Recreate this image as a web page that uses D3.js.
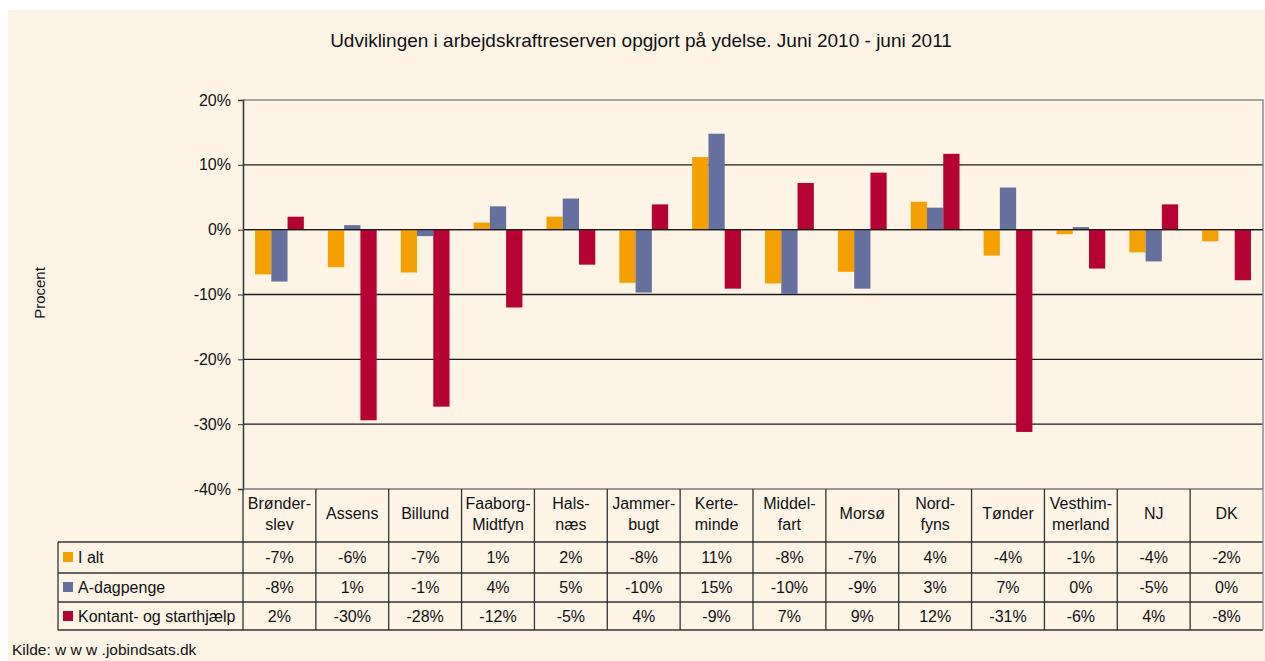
<!DOCTYPE html>
<html>
<head>
<meta charset="utf-8">
<script src="https://cdn.jsdelivr.net/npm/d3@7"></script>
<style>
  body { margin: 0; background: #fff; }
  text { font-family: "Liberation Sans", Arial, sans-serif; fill: #111; }
</style>
</head>
<body>
<script>
// data
var categories = ["Brønder-\nslev", "Assens", "Billund", "Faaborg-\nMidtfyn", "Hals-\nnæs", "Jammer-\nbugt",
  "Kerte-\nminde", "Middel-\nfart", "Morsø", "Nord-\nfyns", "Tønder", "Vesthim-\nmerland", "NJ", "DK"];
var seriesNames = ["I alt", "A-dagpenge", "Kontant- og starthjælp"];
var iAlt = [-6.9, -5.8, -6.6, 1.1, 2.0, -8.2, 11.2, -8.3, -6.5, 4.3, -4.0, -0.7, -3.5, -1.8];
var aDagpenge = [-8.0, 0.7, -1.0, 3.6, 4.8, -9.7, 14.8, -9.9, -9.1, 3.4, 6.5, 0.4, -4.9, 0.0];
var kontant = [2.0, -29.4, -27.3, -12.0, -5.4, 3.9, -9.1, 7.2, 8.8, 11.7, -31.2, -6.0, 3.9, -7.8];
var iAltLabels = ["-7%", "-6%", "-7%", "1%", "2%", "-8%", "11%", "-8%", "-7%", "4%", "-4%", "-1%", "-4%", "-2%"];
var aDagLabels = ["-8%", "1%", "-1%", "4%", "5%", "-10%", "15%", "-10%", "-9%", "3%", "7%", "0%", "-5%", "0%"];
var kontantLabels = ["2%", "-30%", "-28%", "-12%", "-5%", "4%", "-9%", "7%", "9%", "12%", "-31%", "-6%", "4%", "-8%"];
var yTicks = [20, 10, 0, -10, -20, -30, -40];
var colors = ["#F4A000", "#66709E", "#B50233"];

var series = [iAlt, aDagpenge, kontant];
var rowLabels = [iAltLabels, aDagLabels, kontantLabels];

var W = 1265, H = 661;
var plotLeft = 243, plotRight = 1263, plotTop = 100, plotBottom = 489;

var svg = d3.select("body").append("svg")
  .attr("width", W)
  .attr("height", H);

// background
svg.append("rect")
  .attr("x", 8).attr("y", 10)
  .attr("width", W - 8).attr("height", H - 10)
  .attr("fill", "#FDF4E6");

var x0 = d3.scaleBand().domain(d3.range(categories.length)).range([plotLeft, plotRight]);
var x1 = d3.scaleBand().domain([0, 1, 2]).range([0, x0.bandwidth()]).paddingOuter(0.74);
var y = d3.scaleLinear().domain([-40, 20]).range([plotBottom, plotTop]);

// gridlines
svg.append("g").selectAll("line")
  .data(yTicks.filter(function(d) { return d > -40 && d < 20; }))
  .join("line")
  .attr("x1", plotLeft).attr("x2", plotRight)
  .attr("y1", function(d) { return y(d); })
  .attr("y2", function(d) { return y(d); })
  .attr("stroke", "#1a1a1a")
  .attr("stroke-width", 1.3);

// plot border top/right
svg.append("path")
  .attr("d", "M" + plotLeft + "," + y(20) + "H" + plotRight + "V" + y(-40))
  .attr("fill", "none")
  .attr("stroke", "#8a8a8a")
  .attr("stroke-width", 1.5);

// bars
series.forEach(function(vals, si) {
  svg.append("g").selectAll("rect")
    .data(vals)
    .join("rect")
    .attr("x", function(d, i) { return x0(i) + x1(si); })
    .attr("width", x1.bandwidth())
    .attr("y", function(d) { return y(Math.max(0, d)); })
    .attr("height", function(d) { return Math.abs(y(d) - y(0)); })
    .attr("fill", colors[si]);
});

// zero line on top
svg.append("line")
  .attr("x1", plotLeft).attr("x2", plotRight)
  .attr("y1", y(0)).attr("y2", y(0))
  .attr("stroke", "#1a1a1a")
  .attr("stroke-width", 1.3);

// y axis
var yAxis = svg.append("g")
  .attr("transform", "translate(" + plotLeft + ",0)")
  .call(d3.axisLeft(y).tickValues(yTicks).tickSize(5).tickPadding(7)
    .tickFormat(function(d) { return d + "%"; }));
yAxis.select(".domain").attr("stroke", "#333").attr("stroke-width", 1.5);
yAxis.selectAll(".tick line").attr("stroke", "#333");
yAxis.selectAll("text")
  .style("font-family", "'Liberation Sans', Arial, sans-serif")
  .style("font-size", "16px")
  .attr("fill", "#111");

svg.append("text")
  .attr("transform", "translate(45,293) rotate(-90)")
  .attr("text-anchor", "middle")
  .style("font-size", "15px")
  .text("Procent");

svg.append("text")
  .attr("x", 641).attr("y", 47)
  .attr("text-anchor", "middle")
  .style("font-size", "19px")
  .text("Udviklingen i arbejdskraftreserven opgjort på ydelse. Juni 2010 - juni 2011");

// data table
var rowsY = [plotBottom, 542, 573, 602, 630];
var legLeft = 58;
var tableColor = "#333";
var tbl = svg.append("g");

// horizontal lines
tbl.selectAll("line.h")
  .data(rowsY)
  .join("line")
  .attr("x1", function(d, i) { return i < 1 ? plotLeft : legLeft; })
  .attr("x2", plotRight)
  .attr("y1", function(d) { return d; })
  .attr("y2", function(d) { return d; })
  .attr("stroke", function(d, i) { return i === 0 ? "#777" : tableColor; })
  .attr("stroke-width", 1.3);

// vertical lines
tbl.selectAll("line.v")
  .data(d3.range(categories.length + 1))
  .join("line")
  .attr("x1", function(i) { return i < categories.length ? x0(i) : plotRight; })
  .attr("x2", function(i) { return i < categories.length ? x0(i) : plotRight; })
  .attr("y1", plotBottom).attr("y2", rowsY[4])
  .attr("stroke", function(i) { return i === categories.length ? "#8a8a8a" : tableColor; })
  .attr("stroke-width", 1.3);

tbl.append("line")
  .attr("x1", legLeft).attr("x2", legLeft)
  .attr("y1", rowsY[1]).attr("y2", rowsY[4])
  .attr("stroke", tableColor).attr("stroke-width", 1.3);

// category headers
categories.forEach(function(c, i) {
  var lines = c.split("\n");
  var t = tbl.append("text")
    .attr("text-anchor", "middle")
    .style("font-size", "16px");
  var cx = x0(i) + x0.bandwidth() / 2;
  if (lines.length === 1) {
    t.append("tspan").attr("x", cx).attr("y", 519).text(lines[0]);
  } else {
    t.append("tspan").attr("x", cx).attr("y", 509).text(lines[0]);
    t.append("tspan").attr("x", cx).attr("y", 530).text(lines[1]);
  }
});

// rows
var baselines = [563, 593, 622];
rowLabels.forEach(function(labels, si) {
  tbl.append("g").selectAll("text")
    .data(labels)
    .join("text")
    .attr("x", function(d, i) { return x0(i) + x0.bandwidth() / 2; })
    .attr("y", baselines[si])
    .attr("text-anchor", "middle")
    .style("font-size", "16px")
    .text(function(d) { return d; });

  tbl.append("rect")
    .attr("x", 63).attr("y", baselines[si] - 11)
    .attr("width", 10).attr("height", 10)
    .attr("fill", colors[si]);
  tbl.append("text")
    .attr("x", 78).attr("y", baselines[si])
    .style("font-size", "16px")
    .text(seriesNames[si]);
});

svg.append("text")
  .attr("x", 12).attr("y", 655)
  .style("font-size", "15.5px")
  .text("Kilde: w w w .jobindsats.dk");
</script>
</body>
</html>
